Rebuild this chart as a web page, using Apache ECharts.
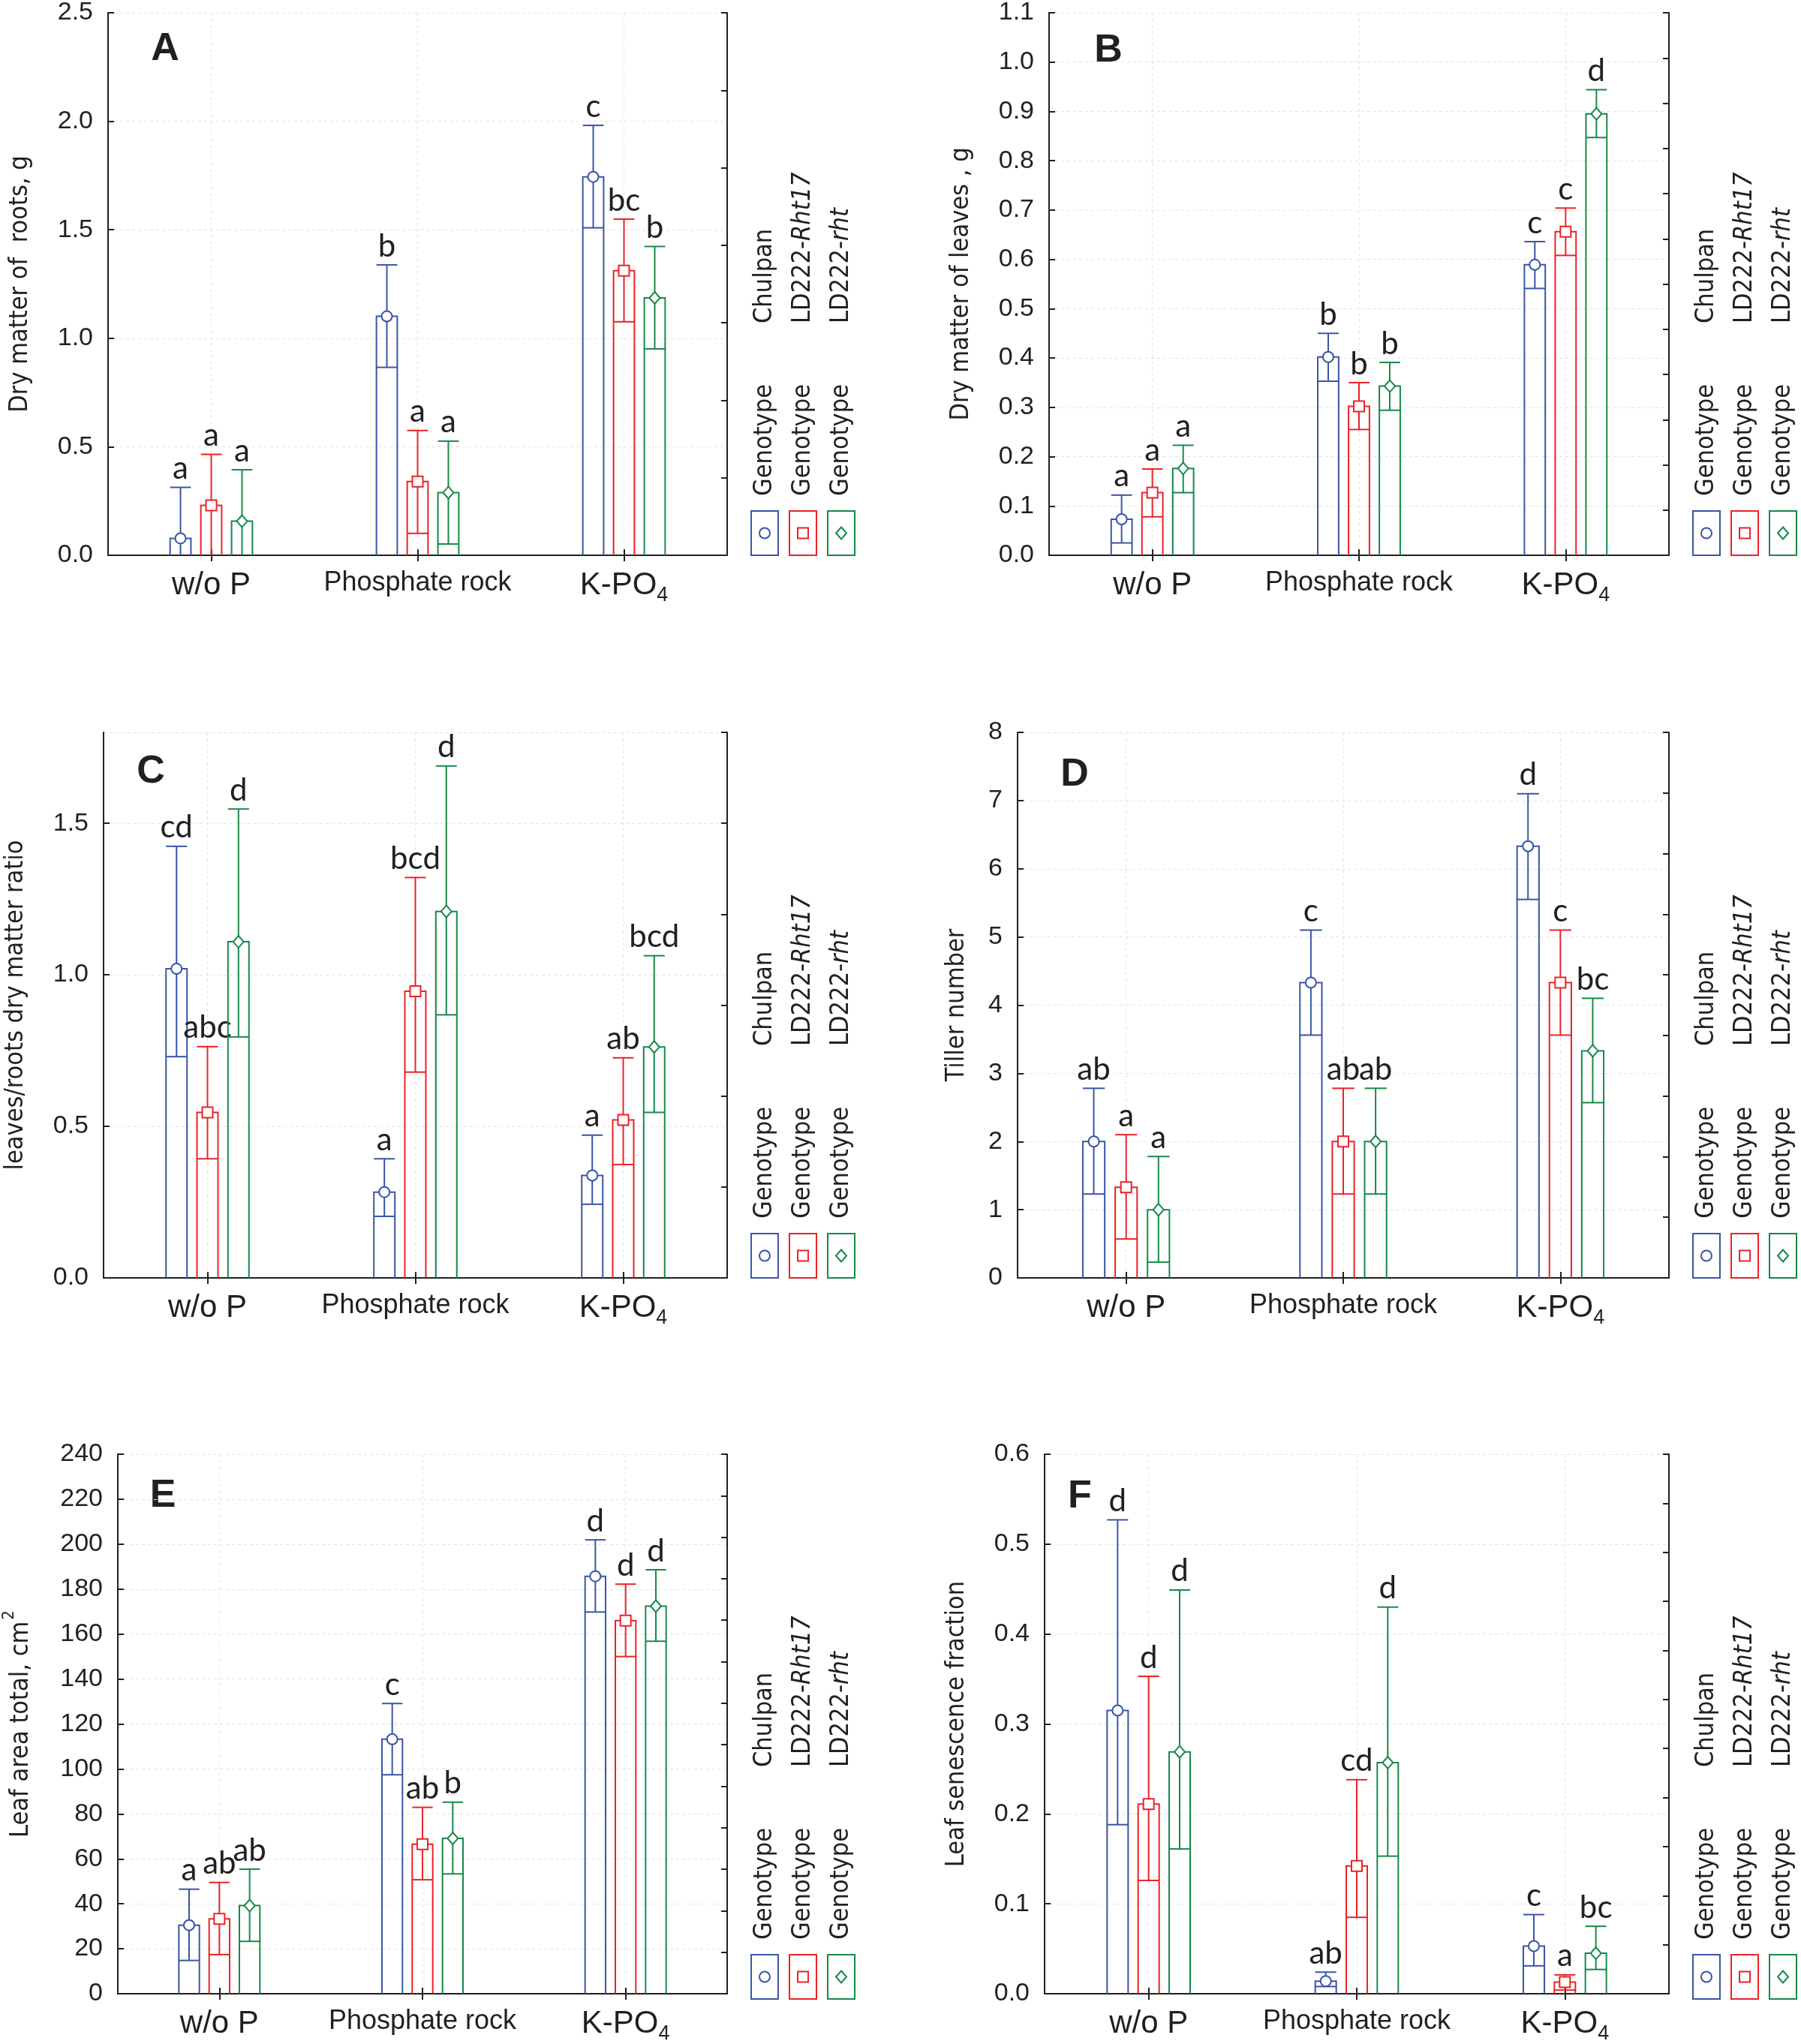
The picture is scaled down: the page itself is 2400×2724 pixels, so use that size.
<!DOCTYPE html>
<html><head><meta charset="utf-8">
<script src="https://cdn.jsdelivr.net/npm/echarts@6/dist/echarts.min.js"></script>
<style>html,body{margin:0;padding:0;background:#fff}#c{width:2400px;height:2724px}</style>
</head><body><div id="c"></div>
<script>
// ---------- DATA ----------
const categories = ['w/o P', 'Phosphate rock', 'K-PO4'];
const genotypes = ['Chulpan', 'LD222-Rht17', 'LD222-rht'];

// A: Dry matter of roots, g
const A_mean_chulpan = [0.078, 1.101, 1.744];
const A_upper_chulpan = [0.313, 1.338, 1.981];
const A_lower_chulpan = [0, 0.866, 1.509];
const A_mean_rht17 = [0.230, 0.340, 1.311];
const A_upper_rht17 = [0.465, 0.575, 1.549];
const A_lower_rht17 = [0, 0.101, 1.076];
const A_mean_rht = [0.157, 0.289, 1.186];
const A_upper_rht = [0.394, 0.526, 1.423];
const A_lower_rht = [0, 0.052, 0.951];
const A_letters_chulpan = ['a', 'b', 'c'];
const A_letters_rht17 = ['a', 'a', 'bc'];
const A_letters_rht = ['a', 'a', 'b'];

// B: Dry matter of leaves, g
const B_mean_chulpan = [0.073, 0.402, 0.589];
const B_upper_chulpan = [0.122, 0.450, 0.636];
const B_lower_chulpan = [0.025, 0.353, 0.541];
const B_mean_rht17 = [0.127, 0.302, 0.656];
const B_upper_rht17 = [0.175, 0.350, 0.704];
const B_lower_rht17 = [0.078, 0.255, 0.608];
const B_mean_rht = [0.176, 0.343, 0.895];
const B_upper_rht = [0.223, 0.391, 0.944];
const B_lower_rht = [0.127, 0.294, 0.847];
const B_letters_chulpan = ['a', 'b', 'c'];
const B_letters_rht17 = ['a', 'b', 'c'];
const B_letters_rht = ['a', 'b', 'd'];

// C: leaves/roots dry matter ratio
const C_mean_chulpan = [1.020, 0.283, 0.338];
const C_upper_chulpan = [1.424, 0.393, 0.471];
const C_lower_chulpan = [0.730, 0.203, 0.243];
const C_mean_rht17 = [0.546, 0.946, 0.521];
const C_upper_rht17 = [0.763, 1.321, 0.726];
const C_lower_rht17 = [0.393, 0.679, 0.374];
const C_mean_rht = [1.109, 1.209, 0.762];
const C_upper_rht = [1.547, 1.689, 1.063];
const C_lower_rht = [0.795, 0.868, 0.546];
const C_letters_chulpan = ['cd', 'a', 'a'];
const C_letters_rht17 = ['abc', 'bcd', 'ab'];
const C_letters_rht = ['d', 'd', 'bcd'];

// D: Tiller number
const D_mean_chulpan = [2.0, 4.33, 6.33];
const D_upper_chulpan = [2.78, 5.10, 7.10];
const D_lower_chulpan = [1.23, 3.56, 5.55];
const D_mean_rht17 = [1.33, 2.0, 4.33];
const D_upper_rht17 = [2.10, 2.78, 5.10];
const D_lower_rht17 = [0.57, 1.23, 3.56];
const D_mean_rht = [1.0, 2.0, 3.33];
const D_upper_rht = [1.78, 2.78, 4.10];
const D_lower_rht = [0.23, 1.23, 2.57];
const D_letters_chulpan = ['ab', 'c', 'd'];
const D_letters_rht17 = ['a', 'ab', 'c'];
const D_letters_rht = ['a', 'ab', 'bc'];

// E: Leaf area total, cm2
const E_mean_chulpan = [30.5, 113.2, 185.7];
const E_upper_chulpan = [46.5, 129.1, 201.9];
const E_lower_chulpan = [14.8, 97.4, 169.8];
const E_mean_rht17 = [33.3, 66.5, 166.0];
const E_upper_rht17 = [49.5, 82.9, 182.2];
const E_lower_rht17 = [17.4, 50.7, 150.0];
const E_mean_rht = [39.2, 69.1, 172.4];
const E_upper_rht = [55.4, 85.2, 188.6];
const E_lower_rht = [23.3, 53.3, 156.8];
const E_letters_chulpan = ['a', 'c', 'd'];
const E_letters_rht17 = ['ab', 'ab', 'd'];
const E_letters_rht = ['ab', 'b', 'd'];

// F: Leaf senescence fraction
const F_mean_chulpan = [0.315, 0.014, 0.053];
const F_upper_chulpan = [0.527, 0.024, 0.088];
const F_lower_chulpan = [0.188, 0.008, 0.031];
const F_mean_rht17 = [0.211, 0.142, 0.013];
const F_upper_rht17 = [0.353, 0.238, 0.021];
const F_lower_rht17 = [0.126, 0.085, 0.004];
const F_mean_rht = [0.269, 0.257, 0.045];
const F_upper_rht = [0.449, 0.430, 0.075];
const F_lower_rht = [0.161, 0.153, 0.027];
const F_letters_chulpan = ['d', 'ab', 'c'];
const F_letters_rht17 = ['d', 'cd', 'a'];
const F_letters_rht = ['d', 'd', 'bc'];

// axis scales (tick settings)
const yScales = {
  A: {min: 0, max: 2.5, interval: 0.5, dec: 1, rightDiv: 7},
  B: {min: 0, max: 1.1, interval: 0.1, dec: 1, rightDiv: 12},
  C: {min: 0, max: 1.8, interval: 0.5, dec: 1, rightDiv: 6},
  D: {min: 0, max: 8, interval: 1, dec: 0, rightDiv: 9},
  E: {min: 0, max: 240, interval: 20, dec: 0, rightDiv: 13},
  F: {min: 0, max: 0.6, interval: 0.1, dec: 1, rightDiv: 11}
};
const yTitles = {
  A: 'Dry matter of  roots, g',
  B: 'Dry matter of leaves , g',
  C: 'leaves/roots dry matter ratio',
  D: 'Tiller number',
  E: '{n|Leaf area total, cm}{s|2}',
  F: 'Leaf senescence fraction'
};

// ---------- LAYOUT / STYLE ----------
const colors = ['#3a55a5', '#ec2227', '#168a47'];
const INK = '#231f20';
const layout = {
  A: {grid: {left: 144, top: 14, width: 825, height: 726}, nameGap: 100, letter: [220, 66], legendRight: false},
  B: {grid: {left: 1398, top: 14, width: 826, height: 726}, nameGap: 100, letter: [1477, 68], legendRight: true},
  C: {grid: {left: 138, top: 976, width: 831, height: 727}, nameGap: 100, letter: [201, 1029], legendRight: false},
  D: {grid: {left: 1356, top: 976, width: 868, height: 727}, nameGap: 64, letter: [1432, 1033], legendRight: true},
  E: {grid: {left: 157, top: 1938, width: 812, height: 726}, nameGap: 112, letter: [217, 1994], legendRight: false},
  F: {grid: {left: 1392, top: 1938, width: 832, height: 726}, nameGap: 100, letter: [1439, 1995], legendRight: true}
};
const keys = ['A', 'B', 'C', 'D', 'E', 'F'];
const dataSets = {
  A: [[A_mean_chulpan, A_lower_chulpan, A_upper_chulpan, A_letters_chulpan], [A_mean_rht17, A_lower_rht17, A_upper_rht17, A_letters_rht17], [A_mean_rht, A_lower_rht, A_upper_rht, A_letters_rht]],
  B: [[B_mean_chulpan, B_lower_chulpan, B_upper_chulpan, B_letters_chulpan], [B_mean_rht17, B_lower_rht17, B_upper_rht17, B_letters_rht17], [B_mean_rht, B_lower_rht, B_upper_rht, B_letters_rht]],
  C: [[C_mean_chulpan, C_lower_chulpan, C_upper_chulpan, C_letters_chulpan], [C_mean_rht17, C_lower_rht17, C_upper_rht17, C_letters_rht17], [C_mean_rht, C_lower_rht, C_upper_rht, C_letters_rht]],
  D: [[D_mean_chulpan, D_lower_chulpan, D_upper_chulpan, D_letters_chulpan], [D_mean_rht17, D_lower_rht17, D_upper_rht17, D_letters_rht17], [D_mean_rht, D_lower_rht, D_upper_rht, D_letters_rht]],
  E: [[E_mean_chulpan, E_lower_chulpan, E_upper_chulpan, E_letters_chulpan], [E_mean_rht17, E_lower_rht17, E_upper_rht17, E_letters_rht17], [E_mean_rht, E_lower_rht, E_upper_rht, E_letters_rht]],
  F: [[F_mean_chulpan, F_lower_chulpan, F_upper_chulpan, F_letters_chulpan], [F_mean_rht17, F_lower_rht17, F_upper_rht17, F_letters_rht17], [F_mean_rht, F_lower_rht, F_upper_rht, F_letters_rht]]
};

const TITLE_FONT = "'DejaVu Sans Condensed', 'DejaVu Sans', sans-serif";
const AXIS_FONT = "'Liberation Sans', Arial, sans-serif";
const LETTER_FONT = "Lato, 'Open Sans', sans-serif";

function markerShape(gi, cx, cy, color) {
  const st = {stroke: color, lineWidth: 2, fill: '#fff'};
  if (gi === 0) return {type: 'circle', shape: {cx: cx, cy: cy, r: 7}, style: st};
  if (gi === 1) return {type: 'rect', shape: {x: cx - 7, y: cy - 7, width: 14, height: 14}, style: st};
  return {type: 'polygon', shape: {points: [[cx, cy - 8], [cx + 7, cy], [cx, cy + 8], [cx - 7, cy]]}, style: st};
}

function makeRender(gi, letters) {
  return function (params, api) {
    const xi = api.value(0), mean = api.value(1), lo = api.value(2), hi = api.value(3);
    const band = api.size([1, 0])[0];
    const off = (gi - 1) * band * 0.149;
    const bw = band * 0.101;
    const base = api.coord([xi, 0]);
    const cx = base[0] + off;
    const yb = base[1];
    const ym = api.coord([xi, mean])[1];
    const yl = api.coord([xi, Math.max(lo, 0)])[1];
    const yh = api.coord([xi, hi])[1];
    const color = colors[gi];
    const ls = {stroke: color, lineWidth: 2, fill: null};
    const children = [
      {type: 'polyline', shape: {points: [[cx - bw / 2, yb], [cx - bw / 2, ym], [cx + bw / 2, ym], [cx + bw / 2, yb]]}, style: ls},
      {type: 'line', shape: {x1: cx, y1: yl, x2: cx, y2: yh}, style: ls},
      {type: 'line', shape: {x1: cx - bw / 2, y1: yh, x2: cx + bw / 2, y2: yh}, style: ls}
    ];
    if (lo > 0) children.push({type: 'line', shape: {x1: cx - bw / 2, y1: yl, x2: cx + bw / 2, y2: yl}, style: ls});
    children.push(markerShape(gi, cx, ym, color));
    children.push({type: 'text', x: cx, y: yh - 4, style: {text: letters[params.dataIndex], font: '42px ' + LETTER_FONT, fill: INK, align: 'center', verticalAlign: 'bottom'}});
    return {type: 'group', children: children};
  };
}

const grids = [], xAxes = [], yAxes = [], series = [], graphics = [];
const axisLineStyle = {color: INK, width: 2};
const gridLineStyle = {color: '#e3e3e3', width: 1, type: [4, 4]};

keys.forEach(function (k, pi) {
  const L = layout[k], S = yScales[k];
  grids.push(Object.assign({containLabel: false}, L.grid));
  xAxes.push({
    gridIndex: pi, type: 'category', data: categories, position: 'bottom',
    axisLine: {show: true, lineStyle: axisLineStyle},
    axisTick: {show: true, inside: true, alignWithLabel: true, length: 8, lineStyle: axisLineStyle},
    splitLine: {show: true, alignWithLabel: true, lineStyle: gridLineStyle},
    axisLabel: {
      margin: 19, color: INK,
      formatter: function (v) {
        if (v === 'K-PO4') return '{b|K-PO}{s|4}';
        if (v === 'Phosphate rock') return '{m|Phosphate rock}';
        return '{b|' + v + '}';
      },
      rich: {
        b: {fontSize: 42, fontFamily: AXIS_FONT, color: INK},
        m: {fontSize: 36, fontFamily: AXIS_FONT, color: INK},
        s: {fontSize: 27, fontFamily: AXIS_FONT, color: INK, verticalAlign: 'bottom', padding: [0, 0, -6, 0]}
      }
    }
  });
  xAxes.push({
    gridIndex: pi, type: 'category', data: categories, position: 'top',
    axisLine: {show: true, lineStyle: axisLineStyle},
    axisTick: {show: true, inside: true, alignWithLabel: true, length: 8, lineStyle: axisLineStyle},
    axisLabel: {show: false}, splitLine: {show: false}
  });
  yAxes.push({
    gridIndex: pi, type: 'value', position: 'left', min: S.min, max: S.max, interval: S.interval,
    axisLine: {show: true, lineStyle: axisLineStyle},
    axisTick: {show: true, inside: true, length: 8, lineStyle: axisLineStyle},
    splitLine: {show: true, lineStyle: gridLineStyle},
    axisLabel: {
      margin: 20, fontSize: 34, fontFamily: AXIS_FONT, color: INK,
      showMaxLabel: k !== 'C',
      formatter: (function (dec) { return function (v) { return v.toFixed(dec); }; })(S.dec)
    },
    name: yTitles[k], nameLocation: 'middle', nameGap: L.nameGap, nameRotate: 90,
    nameTextStyle: {
      fontSize: 34, fontFamily: TITLE_FONT, color: INK,
      rich: {
        n: {fontSize: 34, fontFamily: TITLE_FONT, color: INK},
        s: {fontSize: 22, fontFamily: TITLE_FONT, color: INK, verticalAlign: 'top', padding: [-10, 0, 0, 2]}
      }
    }
  });
  yAxes.push({
    gridIndex: pi, type: 'value', position: 'right', min: 0, max: S.rightDiv, interval: 1,
    axisLine: {show: true, lineStyle: axisLineStyle},
    axisTick: {show: true, inside: true, length: 8, lineStyle: axisLineStyle},
    axisLabel: {show: false}, splitLine: {show: false}
  });

  dataSets[k].forEach(function (ds, gi) {
    const mean = ds[0], lower = ds[1], upper = ds[2], letters = ds[3];
    series.push({
      type: 'custom', name: genotypes[gi], coordinateSystem: 'cartesian2d',
      xAxisIndex: pi * 2, yAxisIndex: pi * 2, clip: false, silent: true,
      renderItem: makeRender(gi, letters),
      encode: {x: 0, y: [1, 2, 3]},
      data: categories.map(function (c, i) { return [i, mean[i], lower[i], upper[i]]; })
    });
  });

  // panel letter
  graphics.push({type: 'text', x: L.letter[0], y: L.letter[1], style: {text: k, font: 'bold 52px ' + AXIS_FONT, fill: INK, align: 'center', verticalAlign: 'middle'}});

  // legend
  const gBottom = L.grid.top + L.grid.height;
  const boxX = L.legendRight ? [2256, 2307, 2358] : [1001, 1052, 1103];
  genotypes.forEach(function (g, gi) {
    const bx = boxX[gi], bw = 36, bh = 59;
    const ccx = bx + bw / 2;
    graphics.push({type: 'rect', shape: {x: bx, y: gBottom - bh, width: bw, height: bh}, style: {stroke: colors[gi], lineWidth: 2, fill: 'none'}});
    graphics.push(markerShape(gi, ccx, gBottom - bh / 2, colors[gi]));
    graphics.push({type: 'text', x: ccx, y: gBottom - 79, rotation: Math.PI / 2,
      style: {text: 'Genotype', font: '34px ' + TITLE_FONT, fill: INK, align: 'left', verticalAlign: 'middle'}});
    let txt;
    if (g === 'LD222-Rht17') txt = '{n|LD222-}{i|Rht17}';
    else if (g === 'LD222-rht') txt = '{n|LD222-}{i|rht}';
    else txt = '{n|' + g + '}';
    graphics.push({type: 'text', x: ccx, y: gBottom - 309, rotation: Math.PI / 2,
      style: {text: txt, align: 'left', verticalAlign: 'middle', fill: INK,
        rich: {
          n: {font: '34px ' + TITLE_FONT, fill: INK},
          i: {font: 'italic 34px ' + TITLE_FONT, fill: INK}
        }}});
  });
});

const chart = echarts.init(document.getElementById('c'), null, {renderer: 'canvas', width: 2400, height: 2724});
chart.setOption({
  backgroundColor: '#fff',
  animation: false,
  textStyle: {fontFamily: AXIS_FONT},
  grid: grids, xAxis: xAxes, yAxis: yAxes, series: series, graphic: graphics
});
</script></body></html>
